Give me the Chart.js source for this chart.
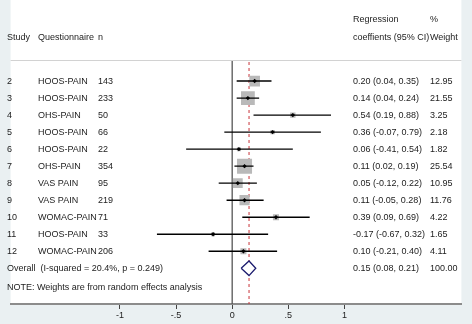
<!DOCTYPE html>
<html>
<head>
<meta charset="utf-8">
<script src="https://cdn.jsdelivr.net/npm/chart.js@4.4.1/dist/chart.umd.min.js"></script>
<style>
  html, body { margin: 0; padding: 0; background: #eaf0f2; }
  canvas { display: block; }
</style>
</head>
<body>
<canvas id="forest" width="472" height="324"></canvas>
<script>
// study rows
const studies = ["2", "3", "4", "5", "6", "7", "8", "9", "10", "11", "12"];
const questionnaires = ["HOOS-PAIN", "HOOS-PAIN", "OHS-PAIN", "HOOS-PAIN", "HOOS-PAIN", "OHS-PAIN",
    "VAS PAIN", "VAS PAIN", "WOMAC-PAIN", "HOOS-PAIN", "WOMAC-PAIN"];
const sampleSizes = [143, 233, 50, 66, 22, 354, 95, 219, 71, 33, 206];
const estimates = [0.20, 0.14, 0.54, 0.36, 0.06, 0.11, 0.05, 0.11, 0.39, -0.17, 0.10];
const lowerCI = [0.04, 0.04, 0.19, -0.07, -0.41, 0.02, -0.12, -0.05, 0.09, -0.67, -0.21];
const upperCI = [0.35, 0.24, 0.88, 0.79, 0.54, 0.19, 0.22, 0.28, 0.69, 0.32, 0.40];
const weights = [12.95, 21.55, 3.25, 2.18, 1.82, 25.54, 10.95, 11.76, 4.22, 1.65, 4.11];

// pooled estimate
const overallEstimate = 0.15;
const overallLower = 0.08;
const overallUpper = 0.21;
const overallWeight = 100.00;
const overallLabel = "Overall  (I-squared = 20.4%, p = 0.249)";
const noteText = "NOTE: Weights are from random effects analysis";

// x axis
const xTickValues = [-1, -0.5, 0, 0.5, 1];
const xTickLabels = ["-1", "-.5", "0", ".5", "1"];

const FONT = '9px "Liberation Sans", Arial, sans-serif';
const TEXT_COLOR = "#1c1c1c";
const overallRow = studies.length;

function fmt(v) {
    return v.toFixed(2);
}

function ciText(est, lo, hi) {
    return `${fmt(est)} (${fmt(lo)}, ${fmt(hi)})`;
}

const ciDatasets = studies.map((_, i) => ({
    type: "line",
    data: [{ x: lowerCI[i], y: i }, { x: upperCI[i], y: i }],
    borderColor: "#000",
    borderWidth: 1.4,
    pointRadius: 0,
    order: 3,
}));

const boxDataset = {
    type: "scatter",
    data: studies.map((_, i) => ({ x: estimates[i], y: i })),
    pointStyle: "rect",
    pointRadius: weights.map((w) => 2.1 * Math.sqrt(w)),
    backgroundColor: "#b9b9b9",
    borderWidth: 0,
    order: 4,
};

const dotDataset = {
    type: "scatter",
    data: studies.map((_, i) => ({ x: estimates[i], y: i })),
    pointStyle: "rectRot",
    pointRadius: 2.2,
    backgroundColor: "#000",
    borderWidth: 0,
    order: 1,
};

const diamondDataset = {
    type: "line",
    data: [
        { x: overallLower, y: overallRow },
        { x: overallEstimate, y: overallRow - 0.43 },
        { x: overallUpper, y: overallRow },
        { x: overallEstimate, y: overallRow + 0.43 },
        { x: overallLower, y: overallRow },
    ],
    borderColor: "#1b1b6e",
    backgroundColor: "#ffffff",
    borderWidth: 1.3,
    fill: "shape",
    pointRadius: 0,
    tension: 0,
    order: 0,
};

const forestPlugin = {
    id: "forestText",
    beforeDraw(chart) {
        const { ctx, chartArea } = chart;
        ctx.save();
        ctx.fillStyle = "#ffffff";
        ctx.fillRect(chartArea.left, 0, chartArea.right - chartArea.left, chartArea.bottom);
        ctx.restore();
    },
    beforeDatasetsDraw(chart) {
        const { ctx, chartArea, scales } = chart;
        const x0 = scales.x.getPixelForValue(0);
        const xo = scales.x.getPixelForValue(overallEstimate);
        ctx.save();
        // header divider
        ctx.strokeStyle = "#d2d2d2";
        ctx.lineWidth = 1;
        ctx.beginPath();
        ctx.moveTo(chartArea.left, 60.5);
        ctx.lineTo(chartArea.right, 60.5);
        ctx.stroke();
        // no-effect line
        ctx.strokeStyle = "#555";
        ctx.lineWidth = 1.3;
        ctx.beginPath();
        ctx.moveTo(x0, 61);
        ctx.lineTo(x0, chartArea.bottom);
        ctx.stroke();
        // pooled estimate line
        ctx.strokeStyle = "#c8343a";
        ctx.lineWidth = 1;
        ctx.setLineDash([3, 3]);
        ctx.beginPath();
        ctx.moveTo(xo, 62);
        ctx.lineTo(xo, chartArea.bottom);
        ctx.stroke();
        ctx.restore();
    },
    afterDraw(chart) {
        const { ctx, scales } = chart;
        const y = (r) => scales.y.getPixelForValue(r);
        ctx.save();
        ctx.font = FONT;
        ctx.fillStyle = TEXT_COLOR;
        ctx.textBaseline = "middle";
        ctx.textAlign = "left";

        // headers
        ctx.fillText("Study", 7, 38);
        ctx.fillText("Questionnaire", 38, 38);
        ctx.fillText("n", 98, 38);
        ctx.fillText("Regression", 353, 20);
        ctx.fillText("coeffients (95% CI)", 353, 38);
        ctx.fillText("%", 430, 20);
        ctx.fillText("Weight", 430, 38);

        studies.forEach((s, i) => {
            const yy = y(i);
            ctx.fillText(s, 7, yy);
            ctx.fillText(questionnaires[i], 38, yy);
            ctx.fillText(String(sampleSizes[i]), 98, yy);
            ctx.fillText(ciText(estimates[i], lowerCI[i], upperCI[i]), 353, yy);
            ctx.fillText(fmt(weights[i]), 430, yy);
        });

        const yo = y(overallRow);
        ctx.fillText(overallLabel, 7, yo);
        ctx.fillText(ciText(overallEstimate, overallLower, overallUpper), 353, yo);
        ctx.fillText(fmt(overallWeight), 430, yo);

        ctx.fillText(noteText, 7, 288);
        ctx.restore();
    },
};

new Chart(document.getElementById("forest"), {
    type: "scatter",
    data: {
        datasets: [...ciDatasets, boxDataset, dotDataset, diamondDataset],
    },
    options: {
        responsive: false,
        animation: false,
        layout: { padding: { left: 1, right: 3, top: 0, bottom: 0 } },
        plugins: {
            legend: { display: false },
            tooltip: { enabled: false },
        },
        scales: {
            x: {
                type: "linear",
                min: -1.973,
                max: 2.041,
                afterBuildTicks: (scale) => {
                    scale.ticks = xTickValues.map((v) => ({ value: v }));
                },
                afterFit: (scale) => {
                    scale.height = 20;
                },
                ticks: {
                    autoSkip: false,
                    maxRotation: 0,
                    padding: 1,
                    color: TEXT_COLOR,
                    font: { family: '"Liberation Sans", Arial, sans-serif', size: 9 },
                    callback: (value, index) => xTickLabels[index],
                },
                grid: {
                    drawOnChartArea: false,
                    drawTicks: true,
                    tickLength: 5,
                    color: "#444",
                },
                border: { color: "#8c8c8c", width: 2 },
            },
            y: {
                type: "linear",
                display: false,
                reverse: true,
                min: -4.14,
                max: 13.1,
            },
        },
    },
    plugins: [forestPlugin],
});
</script>
</body>
</html>
